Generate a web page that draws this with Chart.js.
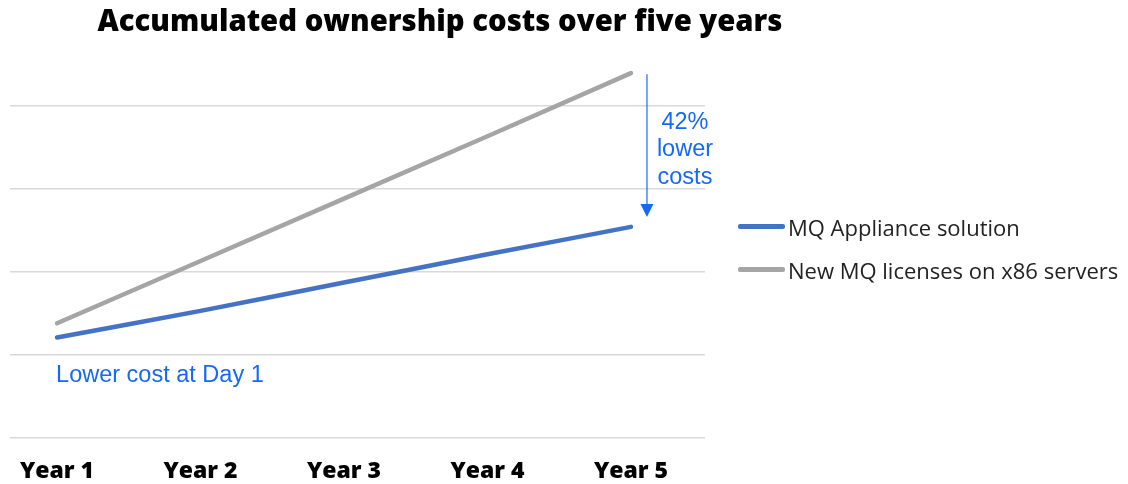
<!DOCTYPE html>
<html>
<head>
<meta charset="utf-8">
<script src="https://cdn.jsdelivr.net/npm/chart.js@4.4.0/dist/chart.umd.min.js"></script>
<style>
  html, body { margin: 0; padding: 0; background: #fff; }
  #wrap { position: relative; width: 1128px; height: 484px; }
  #legend { position: absolute; left: 738px; top: 205px; font: 22px 'Open Sans', sans-serif; color: #222; }
  #legend .row { display: flex; align-items: center; height: 43px; white-space: nowrap; }
  #legend .swatch { width: 47px; height: 4.5px; border-radius: 2px; margin-right: 3px; }
</style>
</head>
<body>
<div id="wrap">
  <canvas id="chart" width="1128" height="484"></canvas>
  <div id="legend"></div>
</div>
<script>
// ---- data
const years = ["Year 1", "Year 2", "Year 3", "Year 4", "Year 5"];
const applianceCosts = [1.21, 1.53, 1.87, 2.21, 2.54];
const x86Costs = [1.38, 2.13, 2.88, 3.63, 4.39];
const gridTicks = [0, 1, 2, 3, 4];

const titleText = "Accumulated ownership costs over five years";
const noteDay1 = "Lower cost at Day 1";
const noteSaving = ["42%", "lower", "costs"];

const blue = "#4472C4";
const grey = "#A5A5A5";
const noteBlue = "#1768f5";

const toPoints = vals => vals.map((v, i) => ({ x: i + 1, y: v }));

// title, arrow and notes
const notes = {
  id: "notes",
  afterDatasetsDraw(chart) {
    const { ctx, scales: { x, y } } = chart;
    ctx.save();

    ctx.fillStyle = "#000";
    ctx.font = "800 29.3px 'Open Sans', sans-serif";
    ctx.textAlign = "center";
    ctx.textBaseline = "middle";
    ctx.fillText(titleText, 440, 23);

    // day 1 note
    ctx.fillStyle = noteBlue;
    ctx.font = "23.5px 'Liberation Sans', Arial, sans-serif";
    ctx.textAlign = "left";
    ctx.fillText(noteDay1, x.getPixelForValue(1) - 1, y.getPixelForValue(1) + 21);

    // arrow between the two year 5 values
    const ax = x.getPixelForValue(5) + 16;
    const top = y.getPixelForValue(x86Costs[4]) + 1;
    const tip = y.getPixelForValue(applianceCosts[4]) - 10;
    ctx.strokeStyle = noteBlue;
    ctx.lineWidth = 1.2;
    ctx.beginPath();
    ctx.moveTo(ax, top);
    ctx.lineTo(ax, tip - 10);
    ctx.stroke();
    ctx.beginPath();
    ctx.moveTo(ax - 6.5, tip - 13);
    ctx.lineTo(ax + 6.5, tip - 13);
    ctx.lineTo(ax, tip);
    ctx.closePath();
    ctx.fill();

    ctx.textAlign = "center";
    noteSaving.forEach((t, i) => ctx.fillText(t, ax + 38, top + 48 + i * 27.5));
    ctx.restore();
  }
};

const chart = new Chart(document.getElementById("chart"), {
  type: "line",
  plugins: [notes],
  data: {
    datasets: [
      {
        label: "MQ Appliance solution",
        data: toPoints(applianceCosts),
        borderColor: blue,
        backgroundColor: blue,
        borderWidth: 4.5,
        borderCapStyle: "round",
        pointRadius: 0,
        tension: 0.1,
      },
      {
        label: "New MQ licenses on x86 servers",
        data: toPoints(x86Costs),
        borderColor: grey,
        backgroundColor: grey,
        borderWidth: 4.5,
        borderCapStyle: "round",
        pointRadius: 0,
      },
    ],
  },
  options: {
    responsive: false,
    animation: false,
    layout: { padding: { left: 10, top: 64, right: 423, bottom: 0 } },
    plugins: {
      tooltip: { enabled: false },
      title: { display: false },
      legend: { display: false },
    },
    scales: {
      x: {
        type: "linear",
        min: 0.672,
        max: 5.516,
        afterBuildTicks: s => { s.ticks = years.map((_, i) => ({ value: i + 1 })); },
        afterFit: s => { s.height = 46; },
        grid: { display: false },
        border: { display: false },
        ticks: {
          callback: v => years[v - 1],
          color: "#000",
          padding: 12,
          maxRotation: 0,
          autoSkip: false,
          font: { size: 23, weight: "800", family: "'Open Sans', sans-serif" },
        },
      },
      y: {
        position: "right",
        min: 0,
        max: 4.5,
        afterBuildTicks: s => { s.ticks = gridTicks.map(v => ({ value: v })); },
        afterFit: s => { s.width = 0; },
        grid: { color: "#d9d9d9", lineWidth: 1.5, drawTicks: false },
        border: { display: false },
        ticks: { display: false },
      },
    },
  },
});

// html legend from the chart's datasets
document.getElementById("legend").innerHTML = chart.data.datasets.map(d =>
  `<div class="row"><span class="swatch" style="background:${d.borderColor}"></span>${d.label}</div>`
).join("");
</script>
</body>
</html>
